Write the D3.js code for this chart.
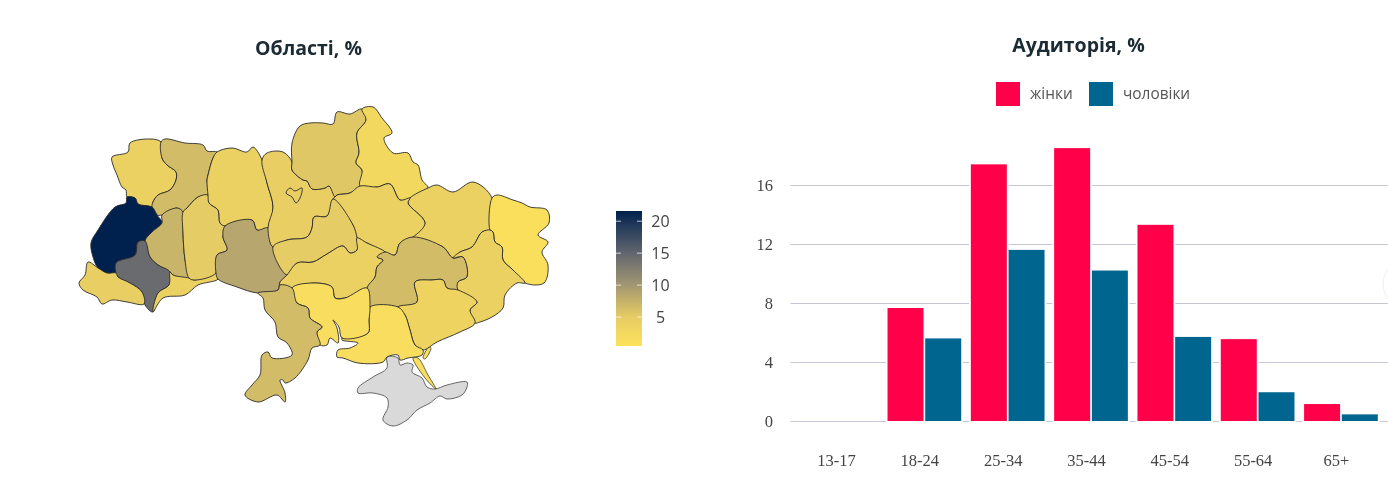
<!DOCTYPE html>
<html lang="uk"><head><meta charset="utf-8">
<script src="https://cdn.jsdelivr.net/npm/d3@7/dist/d3.min.js"></script>
<style>html,body{margin:0;padding:0;background:#fff;overflow:hidden}svg{display:block;filter:blur(.45px)}</style>
</head><body><svg id="c" width="1388" height="486"></svg>
<script>
// ---- bar chart data
const ageGroups = ["13-17","18-24","25-34","35-44","45-54","55-64","65+"];
const women = [0,7.66,17.4,18.5,13.3,5.55,1.15];
const men   = [0,5.6,11.6,10.2,5.7,1.95,0.45];
const barTicks = [0,4,8,12,16];
const seriesNames = ["жінки","чоловіки"];
const seriesColors = ["#ff0049","#00658f"];
// ---- map data: share per region and outlines in map units
const regionNames = ["Волинська","Рівненська","Львівська","Тернопільська","Івано-Франківська","Закарпатська","Чернівецька","Хмельницька","Житомирська","Вінницька","Київська","м. Київ","Чернігівська","Сумська","Харківська","Полтавська","Черкаська","Кіровоградська","Дніпропетровська","Луганська","Донецька","Запорізька","Херсонська","Миколаївська","Одеська"];
const regionValues = [4,6.5,21.6,7.2,14.5,4.5,4,5,4,8.5,4.5,4.5,5.5,2.5,4,4,5,4,6.5,1,4,3.5,1.5,1.5,6.5];
const regionOutlines = [
[[112,157],[128,152],[130,143],[150,139],[161,142],[162,158],[167,165],[176,172],[176,180],[170,190],[158,195],[153,202],[152,207],[138,204],[135,198],[127,197],[126,190],[122,187],[117,175],[113,165]],
[[161,142],[165,139],[185,143],[203,145],[207,151],[217,152],[213,158],[208,175],[207,180],[208,195],[198,197],[187,208],[183,212],[177,208],[162,215],[157,215],[152,207],[153,202],[158,195],[170,190],[176,180],[176,172],[167,165],[162,158]],
[[127,197],[135,198],[138,204],[152,207],[157,215],[162,223],[152,232],[145,241],[138,242],[135,255],[116,263],[116,273],[107,273],[98,268],[93,257],[91,243],[98,230],[115,207],[126,203]],
[[162,215],[177,208],[183,212],[183,233],[185,260],[189,278],[173,275],[170,272],[158,265],[150,257],[145,241],[152,232],[162,223]],
[[145,241],[150,257],[158,265],[170,272],[169,285],[158,293],[153,312],[145,305],[142,292],[130,283],[118,277],[116,263],[135,255],[138,242]],
[[88,262],[98,268],[107,273],[116,273],[118,277],[130,283],[142,292],[144,304],[127,302],[112,300],[102,304],[97,297],[83,290],[79,283],[85,275]],
[[170,272],[173,275],[189,278],[195,280],[216,273],[218,279],[198,285],[185,295],[163,298],[153,312],[158,293],[169,285]],
[[187,208],[198,197],[208,195],[209,203],[218,210],[220,223],[225,226],[223,237],[227,250],[217,255],[216,273],[195,280],[189,278],[185,260],[183,233],[183,212]],
[[217,152],[232,148],[247,152],[253,147],[262,160],[267,183],[273,207],[268,228],[257,230],[252,220],[225,226],[220,223],[218,210],[209,203],[208,195],[207,180],[208,175],[213,158]],
[[225,226],[252,220],[257,230],[268,228],[273,247],[287,275],[280,282],[278,290],[258,293],[237,287],[218,279],[216,273],[217,255],[227,250],[223,237]],
[[262,160],[267,153],[283,152],[292,162],[292,170],[303,180],[307,181],[312,189],[325,188],[329,186],[335,197],[333,199],[327,216],[314,217],[312,228],[307,237],[287,240],[273,247],[268,228],[273,207],[267,183]],
[[286,193],[290,188],[295,191],[302,188],[300,198],[296,203],[292,197]],
[[292,143],[300,126],[310,123],[323,123],[333,124],[337,112],[350,114],[362,109],[366,120],[357,133],[359,153],[356,163],[362,170],[360,186],[350,193],[337,195],[335,197],[329,186],[325,188],[312,189],[307,181],[303,180],[292,170],[292,162]],
[[362,109],[373,107],[382,118],[392,133],[384,138],[393,153],[408,153],[413,162],[418,165],[422,180],[428,188],[410,198],[400,200],[390,184],[377,187],[360,186],[362,170],[356,163],[359,153],[357,133],[366,120]],
[[428,188],[437,185],[453,192],[473,182],[492,198],[490,230],[482,232],[472,247],[460,252],[453,258],[443,247],[413,237],[425,223],[408,203],[410,198]],
[[335,197],[337,195],[350,193],[360,186],[377,187],[390,184],[400,200],[410,198],[408,203],[425,223],[413,237],[400,243],[395,255],[385,252],[367,243],[357,238],[353,225],[333,199]],
[[333,199],[353,225],[357,238],[357,250],[350,253],[343,246],[327,254],[313,262],[297,263],[287,275],[273,247],[287,240],[307,237],[312,228],[314,217],[327,216]],
[[287,275],[297,263],[313,262],[327,254],[343,246],[350,253],[357,250],[357,238],[367,243],[385,252],[385,255],[377,257],[383,260],[377,267],[375,277],[367,288],[355,297],[345,298],[335,298],[332,287],[313,283],[292,288],[280,285],[280,282]],
[[385,252],[395,255],[400,243],[413,237],[443,247],[453,258],[463,257],[467,277],[458,282],[458,290],[447,288],[443,280],[432,280],[415,282],[417,302],[398,307],[370,307],[367,288],[375,277],[377,267],[383,260],[377,257]],
[[492,198],[497,195],[513,200],[522,203],[530,207],[547,210],[549,223],[538,235],[548,242],[542,252],[548,265],[544,283],[525,283],[513,270],[503,260],[502,247],[495,242],[493,232],[490,230]],
[[482,232],[490,230],[493,232],[495,242],[502,247],[503,260],[513,270],[525,283],[517,283],[505,295],[503,308],[492,317],[480,322],[475,323],[470,310],[477,302],[458,290],[458,282],[467,277],[463,257],[453,258],[460,252],[472,247]],
[[398,307],[417,302],[415,282],[432,280],[443,280],[447,288],[458,290],[477,302],[470,310],[475,323],[460,332],[437,342],[423,350],[415,345],[410,330],[405,315]],
[[370,307],[398,307],[405,315],[410,330],[415,345],[423,350],[422,355],[408,358],[400,360],[398,355],[387,357],[383,362],[358,363],[343,358],[337,357],[338,350],[350,348],[358,343],[342,340],[342,338],[368,333],[369,320]],
[[292,288],[313,283],[332,287],[335,298],[345,298],[367,288],[370,307],[369,320],[368,333],[342,338],[339,327],[333,320],[337,328],[338,343],[330,338],[327,345],[320,345],[317,332],[322,327],[310,318],[308,308],[297,303]],
[[258,293],[278,290],[280,285],[292,288],[297,303],[308,308],[310,318],[322,327],[317,332],[320,345],[312,348],[308,360],[295,378],[285,383],[283,380],[280,380],[285,393],[285,402],[277,395],[258,402],[245,395],[252,385],[260,375],[262,355],[268,352],[272,358],[292,355],[287,343],[278,337],[275,322],[265,310],[263,298]]
];
const crimeaOutline = [[387,357],[398,358],[400,365],[407,363],[413,365],[412,372],[422,378],[427,387],[435,389],[447,385],[467,382],[467,387],[462,395],[447,399],[440,396],[430,403],[417,410],[407,420],[393,426],[383,420],[388,407],[387,398],[373,393],[358,393],[358,388],[373,377],[387,368]];
const spitOutlines = [[[413,358],[418,358],[428,375],[436,389],[425,378]],[[429,347],[431,348],[425,359],[423,358]]];
const colorTicks = [5,10,15,20];
const colorStops = [[0.47,"#fde25c"],[5,"#e6cc64"],[10,"#a39772"],[15,"#62666f"],[21.6,"#00214e"]];

const svg = d3.select("#c");
const sans = "'Open Sans','Noto Sans',sans-serif";

// titles
function title(t,x,y){svg.append("text").attr("x",x).attr("y",y).attr("text-anchor","middle").attr("font-family",sans).attr("font-weight",700).attr("font-size",19.5).attr("fill","#1b2b33").text(t);}
title("Області, %",308.5,55);
title("Аудиторія, %",1078.5,52);

// map
const color = d3.scaleLinear().domain(colorStops.map(d=>d[0])).range(colorStops.map(d=>d[1])).clamp(true);
const mx = d3.scaleIdentity(), my = d3.scaleIdentity();
const outline = d3.line().x(p=>mx(p[0])).y(p=>my(p[1])).curve(d3.curveCatmullRomClosed.alpha(.5));
const map = svg.append("g").attr("stroke","#2a2a2a").attr("stroke-width",.9).attr("stroke-linejoin","round");
map.append("path").datum(crimeaOutline).attr("d",outline).attr("fill","#d9d9d9").attr("stroke","#555");
map.selectAll("path.spit").data(spitOutlines).join("path").attr("class","spit").attr("d",outline).attr("fill",color(1.5)).attr("stroke-width",.7);
map.selectAll("path.region").data(regionOutlines).join("path").attr("class","region")
  .attr("d",outline).attr("fill",(r,i)=>color(regionValues[i])).append("title").text((r,i)=>regionNames[i]);

// colour bar
const cb = d3.scaleLinear().domain([0.47,21.6]).range([346,211]);
const grad = svg.append("defs").append("linearGradient").attr("id","cbg").attr("x1",0).attr("x2",0).attr("y1",1).attr("y2",0);
colorStops.forEach(([v,c])=>grad.append("stop").attr("offset",(v-0.47)/(21.6-0.47)).attr("stop-color",c));
svg.append("rect").attr("x",616).attr("y",cb(21.6)).attr("width",26).attr("height",cb(0.47)-cb(21.6)).attr("fill","url(#cbg)");
const cbt = svg.append("g").selectAll("g").data(colorTicks).join("g");
cbt.append("line").attr("x1",616).attr("x2",621).attr("y1",d=>cb(d)).attr("y2",d=>cb(d)).attr("stroke","#fff").attr("opacity",.7);
cbt.append("line").attr("x1",637).attr("x2",642).attr("y1",d=>cb(d)).attr("y2",d=>cb(d)).attr("stroke","#fff").attr("opacity",.7);
cbt.append("text").attr("x",660.5).attr("y",d=>cb(d)+6).attr("text-anchor","middle").attr("font-family",sans).attr("font-size",16).attr("fill","#444").text(d=>d);

// bars
const x0 = d3.scaleBand().domain(ageGroups).range([799.4,1382.6]).paddingInner(0.1).paddingOuter(0.05);
const barW = 36, gap = 1.7;
const center = a => x0(a)+x0.bandwidth()/2;
const y = d3.scaleLinear().domain([0,16]).range([421,185]);
const grid = svg.append("g");
grid.selectAll("line").data(barTicks).join("line").attr("x1",790.5).attr("x2",1388).attr("y1",d=>Math.round(y(d))+.5).attr("y2",d=>Math.round(y(d))+.5).attr("stroke","#c5c8d4").attr("stroke-width",1);
const serif = "'Liberation Serif',serif";
svg.append("g").selectAll("text").data(barTicks).join("text").attr("x",773).attr("y",d=>y(d)+5.5).attr("text-anchor","end").attr("font-family",serif).attr("font-size",16.5).attr("fill","#444").text(d=>d);
svg.append("g").selectAll("text").data(ageGroups).join("text").attr("x",d=>center(d)-4.5).attr("y",466).attr("text-anchor","middle").attr("font-family",serif).attr("font-size",16.5).attr("fill","#444").text(d=>d);
const bars = [];
ageGroups.forEach((a,i)=>{ if(women[i]>0||men[i]>0){ bars.push({a,s:0,v:women[i]}); bars.push({a,s:1,v:men[i]}); }});
const bx = d => center(d.a)+(d.s===0?-barW-gap/2:gap/2);
// white halo that interrupts the grid lines, then the bar itself
svg.append("g").selectAll("rect").data(bars).join("rect").attr("x",d=>bx(d)-1.8).attr("y",d=>y(d.v)-1).attr("width",barW+3.6).attr("height",d=>y(0)-y(d.v)+2.5).attr("fill","#fff");
svg.append("g").selectAll("rect").data(bars).join("rect").attr("x",bx).attr("y",d=>y(d.v)).attr("width",barW).attr("height",d=>y(0)-y(d.v)).attr("fill",d=>seriesColors[d.s]);

// legend
const lg = svg.append("g");
[[996,1030],[1089,1123]].forEach(([sx,tx],i)=>{
  lg.append("rect").attr("x",sx).attr("y",82).attr("width",24).attr("height",24).attr("fill",seriesColors[i]);
  lg.append("text").attr("x",tx).attr("y",99).attr("font-family",sans).attr("font-size",15.4).attr("fill","#555").text(seriesNames[i]);
});
// page control peeking in at the right edge
svg.append("circle").attr("cx",1408).attr("cy",284).attr("r",25).attr("fill","#fff").attr("stroke","#eeeeee");
</script></body></html>
